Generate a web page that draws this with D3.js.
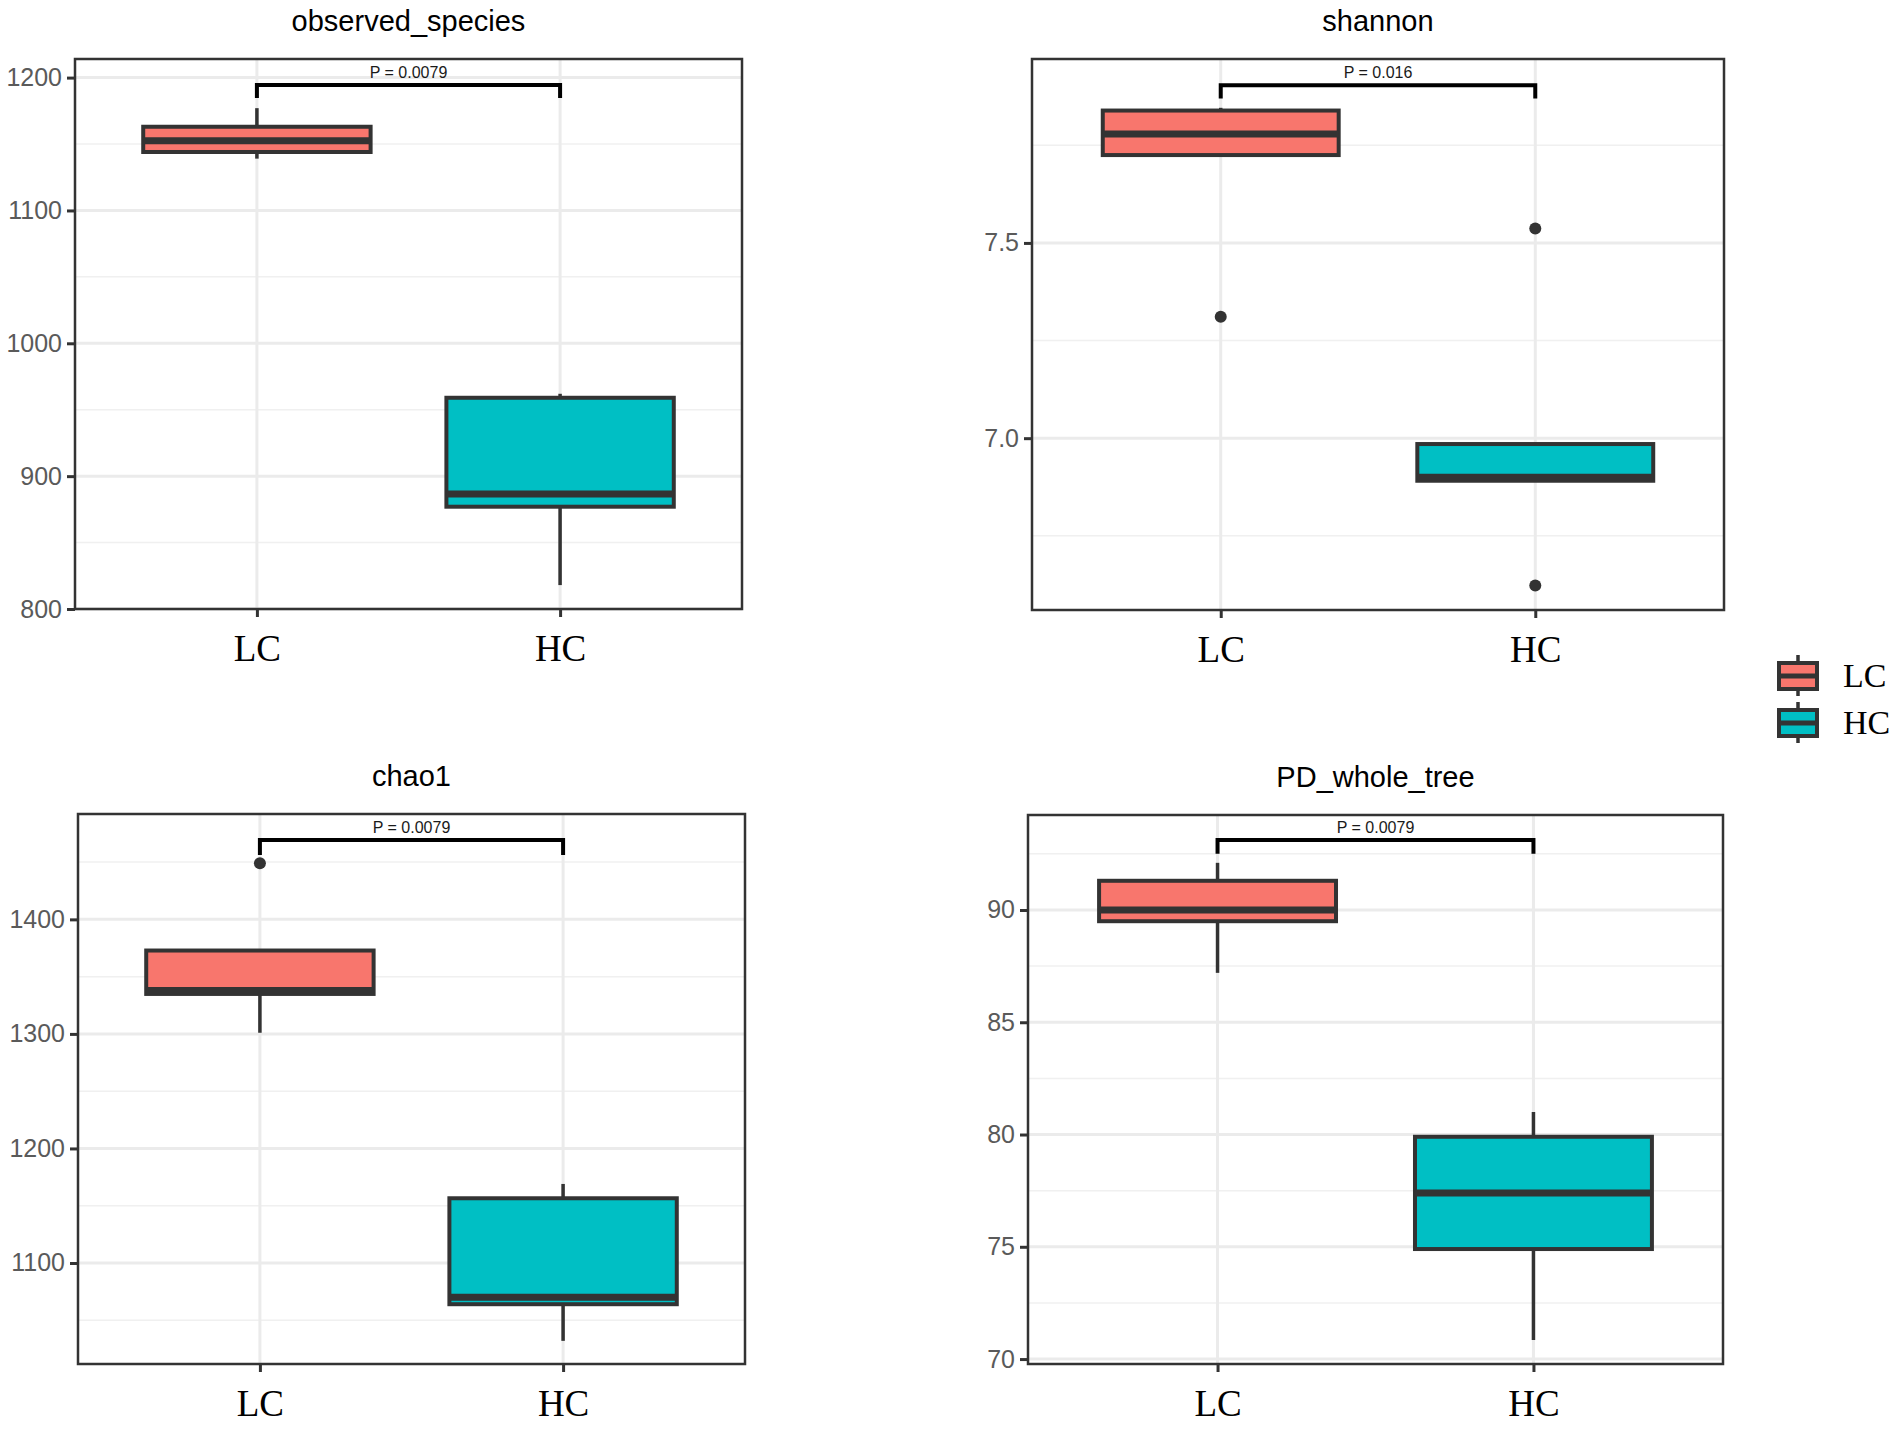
<!DOCTYPE html>
<html lang="en">
<head>
  <meta charset="UTF-8">
  <title>Alpha diversity boxplots</title>
  <script src="https://d3js.org/d3.v7.min.js"></script>
  <style>
    body {
      margin: 0;
      background-color: #ffffff;
    }
    svg {
      display: block;
    }
  </style>
</head>
<body>
  <svg id="chart" width="1902" height="1430"></svg>

  <script>
    // Data
    const groups = ["LC", "HC"];
    const groupColors = ["#F8766D", "#00BFC4"];
    const metrics = ["observed_species", "shannon", "chao1", "PD_whole_tree"];
    const pLabels = ["P = 0.0079", "P = 0.016", "P = 0.0079", "P = 0.0079"];

    // [lower whisker, q1, median, q3, upper whisker] for LC and HC
    const observedStats = [[1139, 1144, 1152.5, 1163, 1177], [818, 877, 886.5, 959, 962]];
    const shannonStats = [[7.725, 7.725, 7.779, 7.839, 7.846], [6.891, 6.891, 6.900, 6.985, 6.985]];
    const chao1Stats = [[1301, 1334.9, 1337.8, 1372.8, 1372.8], [1032, 1064, 1070, 1156.5, 1169]];
    const pdStats = [[87.2, 89.5, 90.0, 91.3, 92.1], [70.85, 74.9, 77.4, 79.9, 81.0]];

    const observedOutliers = [[], []];
    const shannonOutliers = [[7.311], [7.537, 6.623]];
    const chao1Outliers = [[1449], []];
    const pdOutliers = [[], []];

    const yDomains = [[800, 1214], [6.56, 7.971], [1011.8, 1492], [69.78, 94.23]];
    const yTicks = [[800, 900, 1000, 1100, 1200], [7.0, 7.5], [1100, 1200, 1300, 1400], [70, 75, 80, 85, 90]];
    const yMinorTicks = [[850, 950, 1050, 1150], [6.75, 7.25, 7.75], [1050, 1150, 1250, 1350, 1450], [72.5, 77.5, 82.5, 87.5, 92.5]];
    const tickFormats = ["d", ".1f", "d", "d"];
    // bracket bar and tip level in data units
    const bracketLevels = [[1194.5, 1184.7], [7.904, 7.870], [1469.4, 1456.3], [93.12, 92.5]];

    const allStats = [observedStats, shannonStats, chao1Stats, pdStats];
    const allOutliers = [observedOutliers, shannonOutliers, chao1Outliers, pdOutliers];

    // Panel placement
    const panels = [
      { x0: 75, x1: 742, y0: 59, y1: 609 },
      { x0: 1032, x1: 1724, y0: 59, y1: 610 },
      { x0: 78, x1: 745, y0: 814, y1: 1364 },
      { x0: 1028, x1: 1723, y0: 815, y1: 1364 }
    ];

    const svg = d3.select("#chart");
    svg.append("rect").attr("width", 1902).attr("height", 1430).attr("fill", "#ffffff");

    const sansFont = "'Liberation Sans', Arial, sans-serif";
    const serifFont = "'Liberation Serif', 'Times New Roman', serif";
    const dark = "#333333";

    metrics.forEach((name, i) => {
      const p = panels[i];
      const stats = allStats[i];
      const outliers = allOutliers[i];

      const x = d3.scalePoint().domain(groups).range([p.x0, p.x1]).padding(0.6);
      const y = d3.scaleLinear().domain(yDomains[i]).range([p.y1, p.y0]);
      const boxW = x.step() * 0.75;

      const g = svg.append("g");

      // grid
      g.append("g").selectAll("line")
        .data(yMinorTicks[i])
        .enter().append("line")
        .attr("x1", p.x0).attr("x2", p.x1)
        .attr("y1", d => y(d)).attr("y2", d => y(d))
        .attr("stroke", "#f0f0f0").attr("stroke-width", 1.5);

      g.append("g").selectAll("line")
        .data(yTicks[i])
        .enter().append("line")
        .attr("x1", p.x0).attr("x2", p.x1)
        .attr("y1", d => y(d)).attr("y2", d => y(d))
        .attr("stroke", "#ebebeb").attr("stroke-width", 3);

      g.append("g").selectAll("line")
        .data(groups)
        .enter().append("line")
        .attr("x1", d => x(d)).attr("x2", d => x(d))
        .attr("y1", p.y0).attr("y2", p.y1)
        .attr("stroke", "#ebebeb").attr("stroke-width", 3);

      // boxes
      const box = g.append("g").selectAll("g")
        .data(groups)
        .enter().append("g");

      box.append("line")
        .attr("x1", d => x(d)).attr("x2", d => x(d))
        .attr("y1", (d, k) => y(stats[k][0]))
        .attr("y2", (d, k) => y(stats[k][4]))
        .attr("stroke", dark).attr("stroke-width", 3.5);

      box.append("rect")
        .attr("x", d => x(d) - boxW / 2)
        .attr("width", boxW)
        .attr("y", (d, k) => y(stats[k][3]))
        .attr("height", (d, k) => y(stats[k][1]) - y(stats[k][3]))
        .attr("fill", (d, k) => groupColors[k])
        .attr("stroke", dark).attr("stroke-width", 4);

      box.append("line")
        .attr("x1", d => x(d) - boxW / 2).attr("x2", d => x(d) + boxW / 2)
        .attr("y1", (d, k) => y(stats[k][2]))
        .attr("y2", (d, k) => y(stats[k][2]))
        .attr("stroke", dark).attr("stroke-width", 7);

      // outliers
      groups.forEach((grp, k) => {
        g.append("g").selectAll("circle")
          .data(outliers[k])
          .enter().append("circle")
          .attr("cx", x(grp))
          .attr("cy", d => y(d))
          .attr("r", 6)
          .attr("fill", dark);
      });

      // significance bracket
      const [barY, tipY] = bracketLevels[i];
      g.append("path")
        .attr("d", `M${x("LC")},${y(tipY)}V${y(barY)}H${x("HC")}V${y(tipY)}`)
        .attr("fill", "none")
        .attr("stroke", "#000000")
        .attr("stroke-width", 4);

      g.append("text")
        .attr("x", (x("LC") + x("HC")) / 2)
        .attr("y", y(barY) - 7)
        .attr("text-anchor", "middle")
        .style("font-family", sansFont)
        .style("font-size", "16px")
        .attr("fill", "#1a1a1a")
        .text(pLabels[i]);

      // panel border
      g.append("rect")
        .attr("x", p.x0).attr("y", p.y0)
        .attr("width", p.x1 - p.x0).attr("height", p.y1 - p.y0)
        .attr("fill", "none")
        .attr("stroke", dark).attr("stroke-width", 2.5);

      // axes
      const yAxis = g.append("g")
        .attr("transform", `translate(${p.x0},0)`)
        .call(d3.axisLeft(y).tickValues(yTicks[i]).tickFormat(d3.format(tickFormats[i])).tickSize(8).tickPadding(5));
      yAxis.select(".domain").remove();
      yAxis.selectAll(".tick line").attr("stroke", dark).attr("stroke-width", 3);
      yAxis.selectAll(".tick text")
        .style("font-family", sansFont)
        .style("font-size", "25px")
        .attr("fill", "#5a5a5a");

      const xAxis = g.append("g")
        .attr("transform", `translate(0,${p.y1})`)
        .call(d3.axisBottom(x).tickSize(8).tickPadding(18));
      xAxis.select(".domain").remove();
      xAxis.selectAll(".tick line").attr("stroke", dark).attr("stroke-width", 3);
      xAxis.selectAll(".tick text")
        .style("font-family", serifFont)
        .style("font-size", "37px")
        .attr("fill", "#000000");

      // title
      g.append("text")
        .attr("x", (p.x0 + p.x1) / 2)
        .attr("y", p.y0 - 28)
        .attr("text-anchor", "middle")
        .style("font-family", sansFont)
        .style("font-size", "29px")
        .attr("fill", "#000000")
        .text(name);
    });

    // legend
    const legend = svg.append("g").attr("transform", "translate(1798,676)");
    const item = legend.selectAll("g")
      .data(groups)
      .enter().append("g")
      .attr("transform", (d, k) => `translate(0,${k * 47})`);

    item.append("line")
      .attr("y1", -21).attr("y2", 20)
      .attr("stroke", dark).attr("stroke-width", 3.5);
    item.append("rect")
      .attr("x", -19).attr("y", -13)
      .attr("width", 38).attr("height", 26)
      .attr("fill", (d, k) => groupColors[k])
      .attr("stroke", dark).attr("stroke-width", 4);
    item.append("line")
      .attr("x1", -19).attr("x2", 19)
      .attr("stroke", dark).attr("stroke-width", 5);
    item.append("text")
      .attr("x", 45)
      .attr("y", 11)
      .style("font-family", serifFont)
      .style("font-size", "34px")
      .attr("fill", "#000000")
      .text(d => d);
  </script>
</body>
</html>
